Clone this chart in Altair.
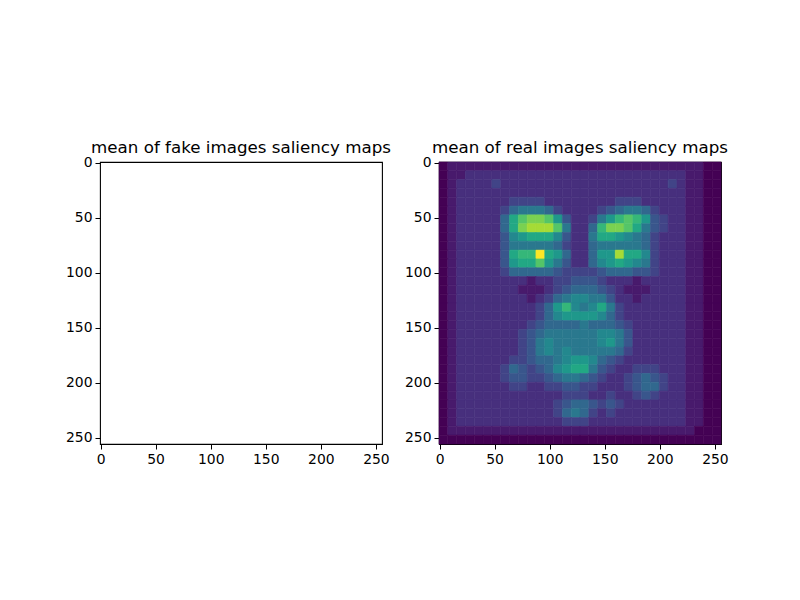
import altair as alt
import pandas as pd

fake_title = "mean of fake images saliency maps"
real_title = "mean of real images saliency maps"
ticks = [0, 50, 100, 150, 200, 250]

# mean saliency of the real images on a 32x32 grid
# (8 image pixels per cell), one hex digit per cell: 0 darkest, f brightest
real_rows = [
    "01111111111111111111111111111100",
    "01122222222222222222222222221100",
    "01222232222222222222222222321100",
    "01222222222222222222222222221100",
    "01222222333322222222333222221100",
    "01222223566653222234566532221100",
    "012222259bccb8422368aba843221100",
    "012222259cdddb6225accb9643221100",
    "01222224789997422699876532221100",
    "01222224666665322566666532221100",
    "012222249aaf98522588d99732221100",
    "01222224899b86422578987632221100",
    "01222223555554333345554432221100",
    "01222222221223344432221222221100",
    "01222222211123455543211122221100",
    "01222222221235677664221222221100",
    "01222222222358a76796322222221100",
    "01222222222357888875322222221100",
    "01222222223455556555432222221100",
    "01222222234566666677642222221100",
    "01222222234676666678642222221100",
    "01222222234676766666532222221100",
    "01222222334556788754322222221100",
    "01222223543457899643223332221100",
    "01222223443345665432234543221100",
    "01222222332233443322234553221100",
    "01222222222222333223223432221100",
    "01222222222223455434322222221100",
    "01222222222223565323222222221100",
    "01222222222222333222222222221100",
    "01111111111111111111111111111000",
    "00000000000000000000000000000000",
]


def _cells(rows, size=8):
    records = []
    for r, row in enumerate(rows):
        for c, ch in enumerate(row):
            records.append({
                "x": c * size - 0.5, "x2": (c + 1) * size - 0.5,
                "y": r * size - 0.5, "y2": (r + 1) * size - 0.5,
                "v": int(ch, 16),
            })
    return pd.DataFrame(records)


def _axis():
    return alt.Axis(values=ticks, title=None, grid=False, domain=False,
                    tickSize=5, tickColor="black", labelPadding=3,
                    labelFlush=False, labelColor="black",
                    labelFont="DejaVu Sans", labelFontSize=13.9)


def _panel(df, title, filled):
    scale_x = alt.Scale(domain=[-0.5, 255.5], nice=False, zero=False)
    scale_y = alt.Scale(domain=[-0.5, 255.5], nice=False, zero=False, reverse=True)
    color = alt.Scale(scheme="viridis", domain=[0, 15])
    base = alt.Chart(df).encode(
        x=alt.X("x:Q", scale=scale_x, axis=_axis()),
        x2="x2:Q",
        y=alt.Y("y:Q", scale=scale_y, axis=_axis()),
        y2="y2:Q",
    )
    if filled:
        chart = base.mark_rect(strokeWidth=0.6).encode(
            color=alt.Color("v:Q", scale=color, legend=None),
            stroke=alt.Stroke("v:Q", scale=color, legend=None),
        )
    else:
        chart = base.mark_rect(opacity=0)
    return chart.properties(
        width=282, height=282,
        title=alt.TitleParams(title, font="DejaVu Sans", fontSize=16.7,
                              fontWeight="normal", color="black",
                              anchor="middle", frame="group", offset=-1),
    )


cells = _cells(real_rows)
chart = alt.hconcat(
    _panel(cells, fake_title, False),
    _panel(cells, real_title, True),
    spacing=11,
).properties(
    padding={"left": 56, "top": 131, "right": 5, "bottom": 5},
).configure_view(stroke="black", strokeWidth=1.1)

chart.save("out.html", embed_options={"renderer": "svg", "actions": False})
